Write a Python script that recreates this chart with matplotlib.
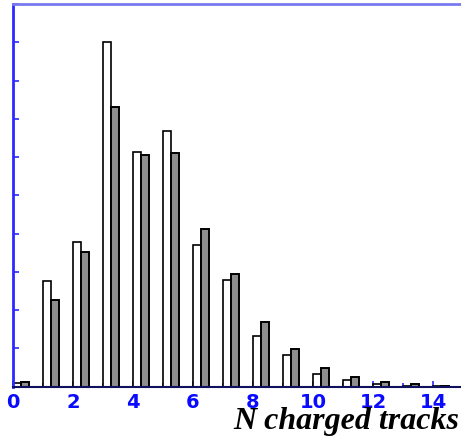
import matplotlib
matplotlib.use("Agg")
import matplotlib.pyplot as plt
import numpy as np
from matplotlib.ticker import MultipleLocator

n_tracks = [0, 1, 2, 3, 4, 5, 6, 7, 8, 9, 10, 11, 12, 13, 14]
data_vals = [0.10, 2.76, 3.79, 9.00, 6.14, 6.68, 3.70, 2.79, 1.33, 0.82, 0.34, 0.17, 0.07, 0.02, 0.01]
mc_vals = [0.11, 2.26, 3.53, 7.30, 6.05, 6.11, 4.11, 2.94, 1.68, 0.98, 0.48, 0.25, 0.12, 0.07, 0.03]
x_ticklabels = ["0", "2", "4", "6", "8", "10", "12", "14"]
xlabel = "N charged tracks"

W, H = 461, 438
fig = plt.figure(figsize=(W / 100, H / 100), dpi=100)
x0, x1 = 13, 461
y_bot, y_top = 386.7, 4
ax = fig.add_axes([x0 / W, (H - y_bot) / H, (x1 - x0) / W, (y_bot - y_top) / H])

bw = 0.26
x = np.array(n_tracks, dtype=float)
ax.bar(x, data_vals, width=bw, align="edge", facecolor="white", edgecolor="black", linewidth=1.2, zorder=2)
ax.bar(x + bw, mc_vals, width=bw, align="edge", facecolor="#8e8e8e", edgecolor="black", linewidth=1.4, zorder=2)

ax.set_xlim(0, 14.93)
ax.set_ylim(0, 10)

ax.spines["right"].set_visible(False)
ax.spines["left"].set_color("#2a2aff")
ax.spines["left"].set_linewidth(2)
ax.spines["top"].set_color("#7a7af0")
ax.spines["top"].set_linewidth(2)
ax.spines["bottom"].set_color("#101060")
ax.spines["bottom"].set_linewidth(1.5)

ax.set_xticks(np.arange(0, 15, 2))
ax.set_xticklabels(x_ticklabels)
ax.xaxis.set_minor_locator(MultipleLocator(1))
ax.yaxis.set_major_locator(MultipleLocator(1))
ax.set_yticklabels([])

ax.tick_params(axis="x", which="both", direction="in", color="#2a2aff", width=1.2, top=False)
ax.tick_params(axis="x", which="major", length=4, pad=4.5, labelsize=14, labelcolor="#0a0aff")
ax.tick_params(axis="x", which="minor", length=3)
ax.tick_params(axis="y", which="both", direction="in", color="#2a2aff", width=1.2, length=4, right=False)
for lab in ax.get_xticklabels():
    lab.set_fontfamily("DejaVu Sans")
    lab.set_fontweight("bold")

fig.text(459 / W, (H - 429) / H, xlabel, ha="right", va="baseline",
         fontsize=23, fontfamily="Liberation Serif", fontweight="bold", fontstyle="italic", color="black")

fig.savefig("out.png", dpi=100)
